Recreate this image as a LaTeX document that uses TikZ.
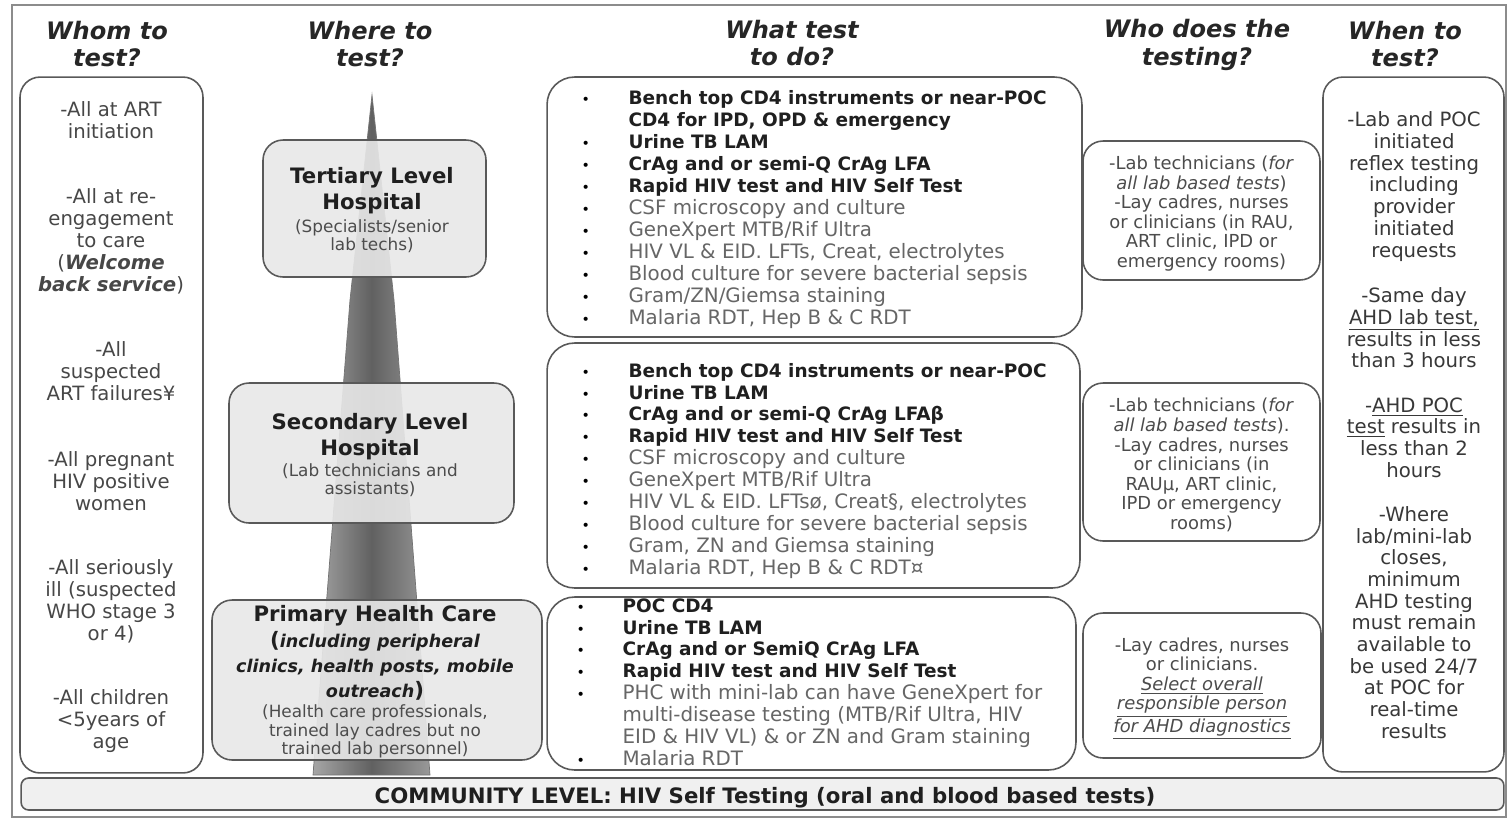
\documentclass[tikz,border=0pt]{standalone}
\usepackage{fontspec}
\setmainfont{DejaVu Sans}[BoldFeatures={Scale=0.93}]
\usetikzlibrary{positioning}

\newcommand{\boldtest}[1]{\textcolor{black!88}{\bfseries #1}}
\newcommand{\plaintest}[1]{\textcolor{black!60}{#1}}
\newcommand{\blt}{{\fontsize{8}{8}\selectfont\textbullet}}

\tikzset{
    frame/.style={draw=black!45, line width=1.2pt},
    colbox/.style={draw=black!65, line width=0.9pt, rounded corners=0.4cm, fill=white, inner sep=0pt},
    testbox/.style={colbox, rounded corners=0.55cm},
    levelbox/.style={colbox, fill=black!9, fill opacity=0.9},
    txt/.style={align=center, inner sep=0pt},
    head/.style={txt, text=black!85, font={\fontsize{13.7}{15.9}\selectfont\bfseries\itshape}},
    whomtxt/.style={txt, yshift=-0.03cm, text=black!72, font={\fontsize{11.2}{12.5}\selectfont}},
    whentxt/.style={txt, yshift=-0.04cm, text=black!78, font={\fontsize{11.2}{12.35}\selectfont}},
    whotxt/.style={txt, yshift=-0.06cm, text=black!70, font={\fontsize{10.2}{11.15}\selectfont}},
    leveltitle/.style={txt, yshift=-0.04cm, text=black!88, font={\fontsize{13}{14.8}\selectfont\bfseries}},
    levelsub/.style={txt, yshift=-0.04cm, text=black!70, font={\fontsize{9.6}{10.3}\selectfont}},
    testlist/.style={inner sep=0pt, font={\fontsize{11.3}{12.5}\selectfont}},
}

\begin{document}
\begin{tikzpicture}[x=0.02cm, y=-0.02cm]
    \useasboundingbox (0,0) rectangle (1507,822);
    \draw[frame] (12,5) rectangle (1506,817);

    % column heads
    \node[head] (whomHead) at (107,44) {Whom to\\test?};
    \node[head] (whereHead) at (370,44) {Where to\\test?};
    \node[head] (whatHead) at (792,43) {What test\\to do?};
    \node[head] (whoHead) at (1197,45) {Who does the\\testing?};
    \node[head] (whenHead) at (1405,44) {When to\\test?};

    % whom to test
    \node[colbox, minimum width=3.66cm, minimum height=13.92cm] (whomBox) at (111.5,425) {};
    \node[whomtxt] (whomA) at (111,119) {-All at ART\\initiation};
    \node[whomtxt] (whomB) at (111,240) {-All at re-\\engagement\\to care\\(\textbf{\textit{Welcome}}\\\textbf{\textit{back service}})};
    \node[whomtxt] (whomC) at (111,370) {-All\\suspected\\ART failures¥};
    \node[whomtxt] (whomD) at (111,480) {-All pregnant\\HIV positive\\women};
    \node[whomtxt] (whomE) at (111,600) {-All seriously\\ill (suspected\\WHO stage 3\\or 4)};
    \node[whomtxt] (whomF) at (111,719.5) {-All children\\<5years of\\age};

    % where to test
    \coordinate (spireTip) at (372,95);
    \coordinate (spireML) at (350,300);
    \coordinate (spireMR) at (394,300);
    \coordinate (spireL) at (313,775);
    \coordinate (spireR) at (430,775);
    \draw[draw=black!55, left color=black!35, right color=black!40, middle color=black!62]
        (spireTip) -- (spireMR) -- (spireR) -- (spireL) -- (spireML) -- cycle;

    \node[levelbox, minimum width=4.46cm, minimum height=2.74cm] (tertBox) at (374.5,208.5) {};
    \node[leveltitle] (tertTitle) at (372,189) {Tertiary Level\\Hospital};
    \node[levelsub] (tertSub) at (372,234) {(Specialists/senior\\lab techs)};

    \node[levelbox, minimum width=5.70cm, minimum height=2.80cm] (secBox) at (371.5,453) {};
    \node[leveltitle] (secTitle) at (370,435) {Secondary Level\\Hospital};
    \node[levelsub] (secSub) at (370,478) {(Lab technicians and\\assistants)};

    \node[levelbox, minimum width=6.60cm, minimum height=3.20cm] (primBox) at (377,680) {};
    \node[leveltitle, yshift=0.02cm] (primTitle) at (375,615) {Primary Health Care};
    \node[leveltitle, yshift=0.02cm, font={\fontsize{10}{14.2}\selectfont\bfseries}] (primItal) at (375,665)
        {{\fontsize{13}{14}\selectfont(}\textit{including peripheral}\\\textit{clinics, health posts, mobile}\\\textit{outreach}{\fontsize{13}{14}\selectfont)}};
    \node[levelsub, font={\fontsize{9.6}{10.5}\selectfont}] (primSub) at (375,729.5)
        {(Health care professionals,\\trained lay cadres but no\\trained lab personnel)};

    % what test to do
    \node[testbox, minimum width=10.70cm, minimum height=5.20cm] (tertTests) at (814.5,207) {};
    \node[testlist, right=0.70cm of tertTests.west, yshift=-0.06cm] (tertList) {\begin{tabular}{@{}p{0.94cm}@{}l@{}}
        \blt & \boldtest{Bench top CD4 instruments or near-POC}\\
             & \boldtest{CD4 for IPD, OPD \& emergency}\\
        \blt & \boldtest{Urine TB LAM}\\
        \blt & \boldtest{CrAg and or semi-Q CrAg LFA}\\
        \blt & \boldtest{Rapid HIV test and HIV Self Test}\\
        \blt & \plaintest{CSF microscopy and culture}\\
        \blt & \plaintest{GeneXpert MTB/Rif Ultra}\\
        \blt & \plaintest{HIV VL \& EID. LFTs, Creat, electrolytes}\\
        \blt & \plaintest{Blood culture for severe bacterial sepsis}\\
        \blt & \plaintest{Gram/ZN/Giemsa staining}\\
        \blt & \plaintest{Malaria RDT, Hep B \& C RDT}
    \end{tabular}};

    \node[testbox, minimum width=10.66cm, minimum height=4.90cm] (secTests) at (813.5,465.5) {};
    \node[testlist, right=0.70cm of secTests.west, yshift=-0.12cm] (secList) {\begin{tabular}{@{}p{0.94cm}@{}l@{}}
        \blt & \boldtest{Bench top CD4 instruments or near-POC}\\
        \blt & \boldtest{Urine TB LAM}\\
        \blt & \boldtest{CrAg and or semi-Q CrAg LFAβ}\\
        \blt & \boldtest{Rapid HIV test and HIV Self Test}\\
        \blt & \plaintest{CSF microscopy and culture}\\
        \blt & \plaintest{GeneXpert MTB/Rif Ultra}\\
        \blt & \plaintest{HIV VL \& EID. LFTsø, Creat§, electrolytes}\\
        \blt & \plaintest{Blood culture for severe bacterial sepsis}\\
        \blt & \plaintest{Gram, ZN and Giemsa staining}\\
        \blt & \plaintest{Malaria RDT, Hep B \& C RDT¤}
    \end{tabular}};

    \node[testbox, minimum width=10.58cm, minimum height=3.46cm] (primTests) at (811.5,683.5) {};
    \node[testlist, right=0.60cm of primTests.west, yshift=-0.02cm] (primList) {\begin{tabular}{@{}p{0.92cm}@{}l@{}}
        \blt & \boldtest{POC CD4}\\
        \blt & \boldtest{Urine TB LAM}\\
        \blt & \boldtest{CrAg and or SemiQ CrAg LFA}\\
        \blt & \boldtest{Rapid HIV test and HIV Self Test}\\
        \blt & \plaintest{PHC with mini-lab can have GeneXpert for}\\
             & \plaintest{multi-disease testing (MTB/Rif Ultra, HIV}\\
             & \plaintest{EID \& HIV VL) \& or ZN and Gram staining}\\
        \blt & \plaintest{Malaria RDT}
    \end{tabular}};

    % who does the testing
    \node[colbox, minimum width=4.74cm, minimum height=2.78cm] (tertWho) at (1201.5,210.5) {};
    \node[whotxt] (tertWhoTxt) at (tertWho)
        {-Lab technicians (\textit{for}\\\textit{all lab based tests})\\-Lay cadres, nurses\\or clinicians (in RAU,\\ART clinic, IPD or\\emergency rooms)};
    \node[colbox, minimum width=4.74cm, minimum height=3.16cm] (secWho) at (1201.5,462) {};
    \node[whotxt] (secWhoTxt) at (secWho)
        {-Lab technicians (\textit{for}\\\textit{all lab based tests}).\\-Lay cadres, nurses\\or clinicians (in\\RAUµ, ART clinic,\\IPD or emergency\\rooms)};
    \node[colbox, minimum width=4.76cm, minimum height=2.90cm] (primWho) at (1202,685.5) {};
    \node[whotxt] (primWhoTxt) at (primWho)
        {-Lay cadres, nurses\\or clinicians.\\\underline{\textit{Select overall}}\\\underline{\textit{responsible person}}\\\underline{\textit{for AHD diagnostics}}};

    % when to test
    \node[colbox, minimum width=3.62cm, minimum height=13.90cm] (whenBox) at (1413.5,424.5) {};
    \node[whentxt] (whenA) at (1414,184.5) {-Lab and POC\\initiated\\reflex testing\\including\\provider\\initiated\\requests};
    \node[whentxt] (whenB) at (1414,326) {-Same day\\\underline{AHD lab test,}\\results in less\\than 3 hours};
    \node[whentxt] (whenC) at (1414,435.5) {-\underline{AHD POC}\\\underline{test} results in\\less than 2\\hours};
    \node[whentxt] (whenD) at (1414,620.5) {-Where\\lab/mini-lab\\closes,\\minimum\\AHD testing\\must remain\\available to\\be used 24/7\\at POC for\\real-time\\results};

    % community level
    \node[colbox, fill=black!6, rounded corners=0.15cm, minimum width=29.66cm, minimum height=0.64cm] (community) at (762.5,794) {};
    \node[anchor=base, inner sep=0pt, text=black!88, font={\fontsize{13}{14}\selectfont\bfseries}] (commText) at (765,803)
        {COMMUNITY LEVEL: HIV Self Testing (oral and blood based tests)};
\end{tikzpicture}
\end{document}
